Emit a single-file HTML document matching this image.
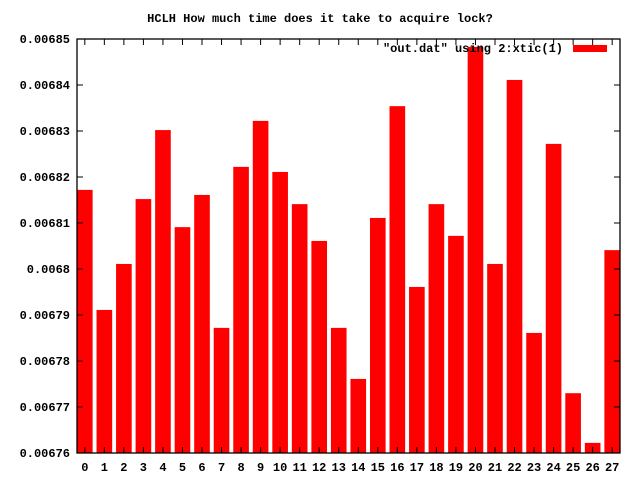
<!DOCTYPE html>
<html><head><meta charset="utf-8"><style>
body{margin:0;background:#fff}
svg{display:block}
text{font-family:"Liberation Mono",monospace;font-size:12px;font-weight:bold;fill:#000}
</style></head><body>
<svg id="chart" width="640" height="480" viewBox="0 0 640 480">
<text x="320" y="22" text-anchor="middle">HCLH How much time does it take to acquire lock?</text>
<g id="bars"></g>
<g id="axes"></g>
<text x="563" y="52" text-anchor="end">"out.dat" using 2:xtic(1)</text>
<rect x="573" y="45" width="34" height="7" fill="#ff0000"/>
</svg>
<script>
const categories=["0","1","2","3","4","5","6","7","8","9","10","11","12","13","14","15","16","17","18","19","20","21","22","23","24","25","26","27"];
const values=[0.0068172,0.0067911,0.0068011,0.0068152,0.0068302,0.0068091,0.0068161,0.0067872,0.0068222,0.0068322,0.0068211,0.0068141,0.0068061,0.0067872,0.0067761,0.0068111,0.0068354,0.0067961,0.0068141,0.0068072,0.0068483,0.0068011,0.0068411,0.0067861,0.0068272,0.006773,0.0067622,0.0068041];
const yTicks=[0.00676,0.00677,0.00678,0.00679,0.0068,0.00681,0.00682,0.00683,0.00684,0.00685];
const yTickLabels=["0.00676","0.00677","0.00678","0.00679","0.0068","0.00681","0.00682","0.00683","0.00684","0.00685"];
const L=77,R=620,T=39,B=453,yMin=0.00676,yMax=0.00685,bw=0.8;
const xMin=-0.4,xMax=categories.length-1+0.4;
const X=v=>L+(v-xMin)/(xMax-xMin)*(R-L);
const Y=v=>B-(v-yMin)/(yMax-yMin)*(B-T);
const NS="http://www.w3.org/2000/svg";
const bars=document.getElementById('bars'),axes=document.getElementById('axes');
function mk(tag,attrs,parent){const e=document.createElementNS(NS,tag);for(const k in attrs)e.setAttribute(k,attrs[k]);parent.appendChild(e);return e;}
values.forEach((v,i)=>{
  const r=mk('rect',{x:X(i-bw/2),y:Y(v),width:X(i+bw/2)-X(i-bw/2),height:B-Y(v),fill:'#ff0000'},bars);
  
  
});
yTicks.forEach((t,i)=>{
  const y=Y(t);
  mk('path',{d:`M${L} ${y}h6M${R} ${y}h-6`,stroke:'#000','stroke-width':1},axes);
  const tx=mk('text',{x:L-7,y:y+4,'text-anchor':'end'},axes);
  tx.textContent=yTickLabels[i];
  
  
});
categories.forEach((c,i)=>{
  const x=X(i);
  mk('path',{d:`M${x} ${B}v-6M${x} ${T}v6`,stroke:'#000','stroke-width':1},axes);
  const tx=mk('text',{x:x,y:B+18,'text-anchor':'middle'},axes);
  tx.textContent=c;
  
  
});
const fr=mk('rect',{x:L,y:T,width:R-L,height:B-T,fill:'none',stroke:'#000','stroke-width':1.3},axes);


</script>
</body></html>
